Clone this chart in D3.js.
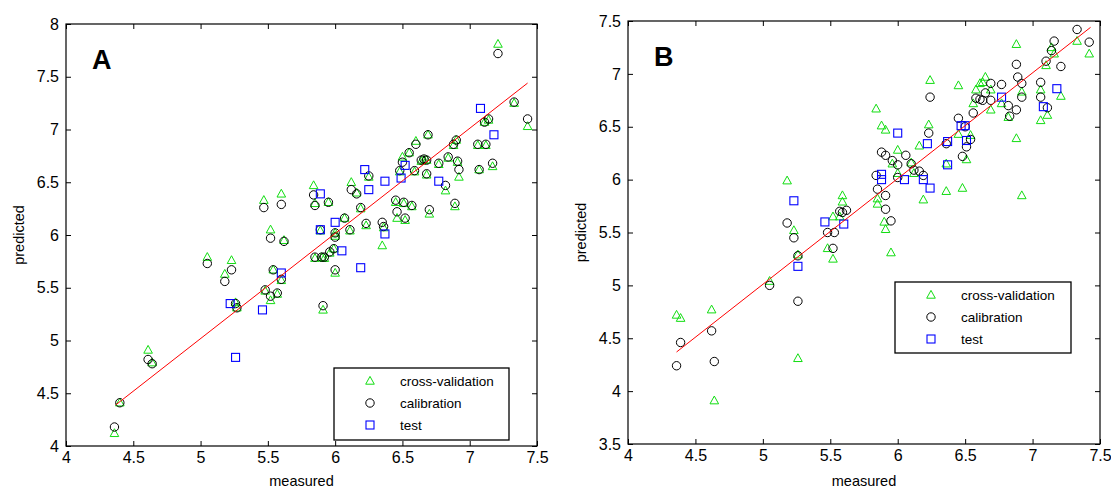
<!DOCTYPE html>
<html>
<head>
<meta charset="utf-8">
<script src="https://cdn.jsdelivr.net/npm/d3@7"></script>
<style>
  html, body { margin: 0; padding: 0; background: #fff; }
  svg { display: block; }
  text { font-family: "Liberation Sans", Arial, sans-serif; fill: #000; }
</style>
</head>
<body>
<svg id="chart" width="1111" height="488"></svg>
<script>
// ---------------- DATA ----------------
const xTicks = [4, 4.5, 5, 5.5, 6, 6.5, 7, 7.5];
const yTicksA = [4, 4.5, 5, 5.5, 6, 6.5, 7, 7.5, 8];
const yTicksB = [3.5, 4, 4.5, 5, 5.5, 6, 6.5, 7, 7.5];
const legendLabels = ["cross-validation", "calibration", "test"];

// Panel A – calibration (black circles) and cross-validation (green triangles, same samples)
const A_calX = [4.36,4.40,4.61,4.64,5.05,5.18,5.23,5.26,5.27,5.47,5.48,5.52,5.52,5.54,5.60,5.57,5.60,5.62,5.84,5.85,
                5.89,5.85,5.91,5.95,5.90,5.92,5.96,5.99,6.00,6.00,6.00,6.07,6.11,6.12,6.16,6.19,6.23,6.25,6.35,6.36,
                6.45,6.46,6.48,6.50,6.51,6.52,6.55,6.57,6.59,6.60,6.64,6.66,6.68,6.68,6.69,6.70,6.77,6.82,6.84,6.88,
                6.89,6.90,6.91,6.92,7.06,7.07,7.11,7.14,7.12,7.17,7.21,7.33,7.43];
const A_calY = [4.18,4.41,4.82,4.78,5.73,5.56,5.67,5.35,5.31,6.26,5.48,5.97,5.42,5.67,6.29,5.45,5.58,5.94,6.38,6.28,
                6.05,5.79,5.33,6.31,5.79,5.79,5.84,5.87,5.98,6.02,5.67,6.16,6.05,6.43,6.39,6.26,6.11,6.56,6.12,6.08,
                6.33,6.22,6.61,6.69,6.31,6.16,6.78,6.28,6.61,6.86,6.71,6.72,6.58,6.71,6.95,6.24,6.68,6.47,6.74,6.86,
                6.30,6.90,6.70,6.62,6.86,6.62,7.07,7.10,6.86,6.68,7.72,7.26,7.10];
const A_cvY  = [4.12,4.41,4.91,4.79,5.79,5.63,5.76,5.36,5.31,6.33,5.47,6.05,5.38,5.67,6.39,5.44,5.57,5.95,6.47,6.30,
                6.04,5.78,5.29,6.31,5.79,5.78,5.83,5.87,5.99,6.02,5.64,6.16,6.04,6.50,6.40,6.25,6.09,6.55,5.90,6.07,
                6.31,6.16,6.60,6.74,6.30,6.14,6.78,6.27,6.60,6.89,6.70,6.71,6.57,6.71,6.95,6.20,6.67,6.42,6.73,6.85,
                6.27,6.90,6.69,6.55,6.85,6.62,7.07,7.09,6.85,6.65,7.81,7.25,7.03];
// Panel A – test (blue squares)
const A_testX = [5.22,5.26,5.46,5.60,5.89,5.89,6.00,6.05,6.19,6.22,6.25,6.37,6.37,6.49,6.52,6.77,7.08,7.18];
const A_testY = [5.35,4.84,5.29,5.64,6.39,6.05,6.12,5.85,5.69,6.62,6.43,6.51,6.01,6.54,6.66,6.51,7.20,6.95];
// Panel A – regression line
const A_lineX = [4.37, 7.43];
const A_lineY = [4.39, 7.44];

// Panel B – calibration (black circles)
const B_calX = [4.36,4.39,4.62,4.64,5.05,5.18,5.23,5.26,5.26,5.48,5.52,5.53,5.57,5.59,5.62,5.84,5.85,5.88,5.91,5.91,
                5.91,5.95,5.96,6.00,6.00,6.06,6.10,6.12,6.16,6.19,6.23,6.24,6.36,6.45,6.48,6.50,6.51,6.54,6.56,6.58,
                6.61,6.63,6.65,6.69,6.69,6.77,6.82,6.83,6.88,6.89,6.88,6.92,6.92,7.06,7.06,7.10,7.11,7.14,7.16,7.21,
                7.33,7.42];
const B_calY = [4.24,4.46,4.57,4.28,5.00,5.59,5.45,5.28,4.85,5.50,5.35,5.50,5.70,5.69,5.71,6.04,5.91,6.26,5.85,5.72,
                6.23,5.61,6.18,6.02,6.14,6.23,6.15,6.09,6.08,6.04,6.44,6.78,6.34,6.58,6.22,6.50,6.31,6.38,6.63,6.77,
                6.76,6.75,6.82,6.75,6.91,6.90,6.70,6.60,7.09,6.97,6.66,6.91,6.78,6.92,6.78,7.12,6.68,7.22,7.31,7.07,
                7.42,7.30];
// Panel B – cross-validation (green triangles)
const B_cvX = [4.36,4.39,4.62,4.64,5.05,5.18,5.23,5.26,5.26,5.48,5.52,5.52,5.59,5.59,5.57,5.84,5.85,5.85,5.88,5.91,
               5.90,5.91,5.95,5.96,6.00,6.00,6.10,6.12,6.16,6.19,6.23,6.24,6.36,6.36,6.45,6.48,6.45,6.51,6.54,6.56,
               6.58,6.61,6.63,6.65,6.69,6.69,6.77,6.82,6.88,6.88,6.92,6.92,7.06,7.06,7.10,7.11,7.14,7.16,7.21,7.33,
               7.42];
const B_cvY = [4.72,4.69,4.77,3.91,5.04,5.99,5.52,4.31,5.29,5.35,5.25,5.65,5.85,5.79,5.65,6.67,5.77,5.82,6.51,6.47,
               5.60,5.53,5.31,6.15,6.28,6.06,6.16,6.06,6.32,5.81,6.52,6.94,5.89,6.15,6.89,5.92,6.43,6.19,6.42,6.72,
               6.85,6.91,6.92,6.97,6.66,6.85,6.72,6.59,7.28,6.39,6.83,5.85,6.85,6.56,7.08,6.61,7.25,7.19,6.79,7.31,
               7.19];
// Panel B – test (blue squares)
const B_testX = [5.23,5.26,5.46,5.60,5.88,5.88,6.00,6.05,6.19,6.22,6.24,6.37,6.37,6.47,6.50,6.51,6.77,7.08,7.18];
const B_testY = [5.80,5.18,5.60,5.58,6.05,6.00,6.44,6.00,6.00,6.34,5.92,6.36,6.14,6.51,6.51,6.37,6.78,6.69,6.86];
// Panel B – regression line
const B_lineX = [4.36, 7.43];
const B_lineY = [4.37, 7.44];

// ---------------- DRAWING ----------------
const GREEN = "#11dd11", BLUE = "#0000ff", BLACK = "#000000", RED = "#ff0000";
const svg = d3.select("#chart");

const triPath = "M0,-4.6L4.3,3.2L-4.3,3.2Z";
function drawMarker(sel, kind, color) {
  if (kind === "tri") {
    sel.append("path").attr("d", triPath).attr("fill", "none").attr("stroke", color).attr("stroke-width", 1);
  } else if (kind === "circ") {
    sel.append("circle").attr("r", 4.2).attr("fill", "none").attr("stroke", color).attr("stroke-width", 1);
  } else {
    sel.append("rect").attr("x", -4).attr("y", -4).attr("width", 8).attr("height", 8)
      .attr("fill", "none").attr("stroke", color).attr("stroke-width", 1.1);
  }
}

function panel(cfg) {
  const x = d3.scaleLinear().domain([4, 7.5]).range([cfg.x0, cfg.x1]);
  const y = d3.scaleLinear().domain(cfg.yDomain).range([cfg.y1, cfg.y0]);
  const g = svg.append("g");
  const fmt = d => String(d);

  // axes (ticks inward, MATLAB style box)
  const axB = g.append("g").attr("transform", `translate(0,${cfg.y1})`)
    .call(d3.axisBottom(x).tickValues(xTicks).tickFormat(fmt).tickSizeInner(-5).tickSizeOuter(0).tickPadding(6));
  const axT = g.append("g").attr("transform", `translate(0,${cfg.y0})`)
    .call(d3.axisTop(x).tickValues(xTicks).tickFormat("").tickSizeInner(-5).tickSizeOuter(0));
  const axL = g.append("g").attr("transform", `translate(${cfg.x0},0)`)
    .call(d3.axisLeft(y).tickValues(cfg.yTicks).tickFormat(fmt).tickSizeInner(-5).tickSizeOuter(0).tickPadding(7));
  const axR = g.append("g").attr("transform", `translate(${cfg.x1},0)`)
    .call(d3.axisRight(y).tickValues(cfg.yTicks).tickFormat("").tickSizeInner(-5).tickSizeOuter(0));
  [axB, axT, axL, axR].forEach(a => {
    a.select(".domain").remove();
    a.selectAll(".tick line").attr("stroke", "#000");
    a.selectAll("text").attr("font-size", 16).attr("font-family", "Liberation Sans, Arial, sans-serif").attr("fill", "#000");
  });
  g.append("rect").attr("x", cfg.x0).attr("y", cfg.y0)
    .attr("width", cfg.x1 - cfg.x0).attr("height", cfg.y1 - cfg.y0)
    .attr("fill", "none").attr("stroke", "#000").attr("stroke-width", 1.2);

  // axis titles
  g.append("text").attr("x", (cfg.x0 + cfg.x1) / 2).attr("y", 486)
    .attr("text-anchor", "middle").attr("font-size", 14.5).text("measured");
  g.append("text").attr("transform", `translate(${cfg.x0 - 42},${(cfg.y0 + cfg.y1) / 2}) rotate(-90)`)
    .attr("text-anchor", "middle").attr("font-size", 14.5).text("predicted");

  // panel letter
  g.append("text").attr("x", cfg.x0 + 26).attr("y", cfg.y0 + 45)
    .attr("font-size", 27).attr("font-weight", "bold").text(cfg.letter);

  // series
  const cv = d3.zip(cfg.cvX, cfg.cvY);
  const cal = d3.zip(cfg.calX, cfg.calY);
  const te = d3.zip(cfg.testX, cfg.testY);
  g.append("g").selectAll("g").data(cv).join("g")
    .attr("transform", d => `translate(${x(d[0])},${y(d[1])})`)
    .each(function() { drawMarker(d3.select(this), "tri", GREEN); });
  g.append("g").selectAll("g").data(cal).join("g")
    .attr("transform", d => `translate(${x(d[0])},${y(d[1])})`)
    .each(function() { drawMarker(d3.select(this), "circ", BLACK); });
  g.append("g").selectAll("g").data(te).join("g")
    .attr("transform", d => `translate(${x(d[0])},${y(d[1])})`)
    .each(function() { drawMarker(d3.select(this), "sq", BLUE); });

  // regression line
  g.append("path").datum(d3.zip(cfg.lineX, cfg.lineY))
    .attr("d", d3.line().x(d => x(d[0])).y(d => y(d[1])))
    .attr("stroke", RED).attr("stroke-width", 1).attr("fill", "none");

  // legend
  const L = cfg.legend;
  const lg = g.append("g");
  lg.append("rect").attr("x", L.x).attr("y", L.y).attr("width", L.w).attr("height", L.h)
    .attr("fill", "#fff").attr("stroke", "#000").attr("stroke-width", 1.3);
  const kinds = [["tri", GREEN], ["circ", BLACK], ["sq", BLUE]];
  legendLabels.forEach((lab, i) => {
    const cy = L.y + 13 + i * 22;
    const m = lg.append("g").attr("transform", `translate(${L.x + 36},${cy})`);
    drawMarker(m, kinds[i][0], kinds[i][1]);
    lg.append("text").attr("x", L.x + 66).attr("y", cy + 5).attr("font-size", 13.5).text(lab);
  });
}

panel({
  letter: "A", x0: 66, x1: 537, y0: 24, y1: 446, yDomain: [4, 8], yTicks: yTicksA,
  calX: A_calX, calY: A_calY, cvX: A_calX, cvY: A_cvY, testX: A_testX, testY: A_testY,
  lineX: A_lineX, lineY: A_lineY,
  legend: { x: 334, y: 368, w: 175, h: 72 }
});
panel({
  letter: "B", x0: 628, x1: 1100, y0: 21, y1: 444, yDomain: [3.5, 7.5], yTicks: yTicksB,
  calX: B_calX, calY: B_calY, cvX: B_cvX, cvY: B_cvY, testX: B_testX, testY: B_testY,
  lineX: B_lineX, lineY: B_lineY,
  legend: { x: 895, y: 282, w: 176, h: 71 }
});
</script>
</body>
</html>
